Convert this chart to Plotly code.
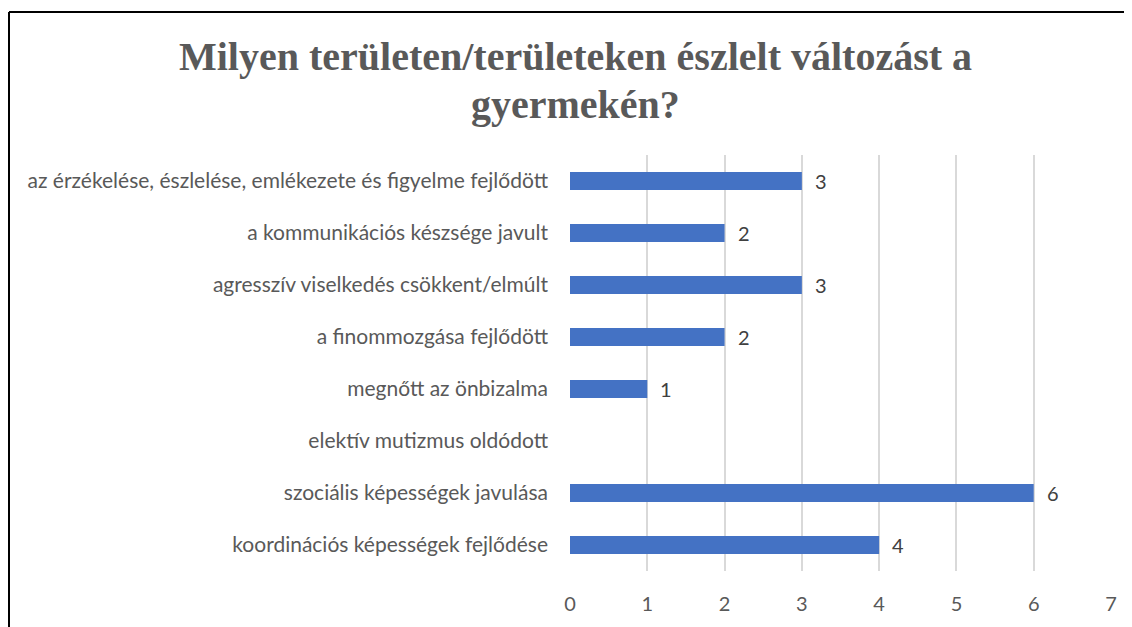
import plotly.graph_objects as go

categories = [
    "az érzékelése, észlelése, emlékezete és figyelme fejlődött",
    "a kommunikációs készsége javult",
    "agresszív viselkedés csökkent/elmúlt",
    "a finommozgása fejlődött",
    "megnőtt az önbizalma",
    "elektív mutizmus oldódott",
    "szociális képességek javulása",
    "koordinációs képességek fejlődése",
]
values = [3, 2, 3, 2, 1, 0, 6, 4]
x_ticks = [0, 1, 2, 3, 4, 5, 6, 7]
title_lines = ["Milyen területen/területeken észlelt változást a", "gyermekén?"]

W, H = 1132, 627
ML, MR, MT, MB = 562, 29, 147, 64
pw, ph = W - ML - MR, H - MT - MB

fig = go.Figure()
fig.add_trace(go.Bar(
    y=categories, x=values, orientation="h",
    marker=dict(color="#4472C4", line=dict(width=0)),
    width=0.35, hoverinfo="x+y",
))

annotations = []
for c, v in zip(categories, values):
    if v > 0:
        annotations.append(dict(
            x=v, y=c, xref="x", yref="y", text=str(v), showarrow=False,
            xanchor="left", xshift=11,
            font=dict(family="Lato", size=20, color="#404040"),
        ))

# title lines
for i, line in enumerate(title_lines):
    ypix = 49 + i * 47
    annotations.append(dict(
        text=line, showarrow=False, xref="paper", yref="paper",
        x=(567 - ML) / pw, y=1 + (MT - ypix) / ph,
        xanchor="center", yanchor="middle",
        font=dict(family="Liberation Serif", size=40, color="#595959",
                  weight="bold"),
    ))

# chart border (top and left visible)
bx = (1 - ML) / pw
by = 1 + (MT - 4) / ph
shapes = [
    dict(type="line", xref="paper", yref="paper", x0=bx, x1=bx, y0=-1, y1=by,
         line=dict(color="#000000", width=2)),
    dict(type="line", xref="paper", yref="paper", x0=bx, x1=2, y0=by, y1=by,
         line=dict(color="#000000", width=2)),
]

fig.update_layout(
    width=W, height=H,
    margin=dict(l=ML, r=MR, t=MT, b=MB, autoexpand=False),
    paper_bgcolor="white", plot_bgcolor="white",
    xaxis=dict(range=[0, 7], tickvals=x_ticks, showgrid=True,
               gridcolor="#d9d9d9", gridwidth=2, zeroline=False,
               showline=False, ticks="", ticklabelstandoff=19,
               tickfont=dict(family="Lato", size=20, color="#595959")),
    yaxis=dict(autorange="reversed", showgrid=False, zeroline=False,
               showline=False, ticks="", ticklabelstandoff=21,
               tickfont=dict(family="Lato", size=21, color="#595959")),
    annotations=annotations,
    shapes=shapes,
    showlegend=False,
    bargap=0.65,
)

fig.write_html("out.html")
